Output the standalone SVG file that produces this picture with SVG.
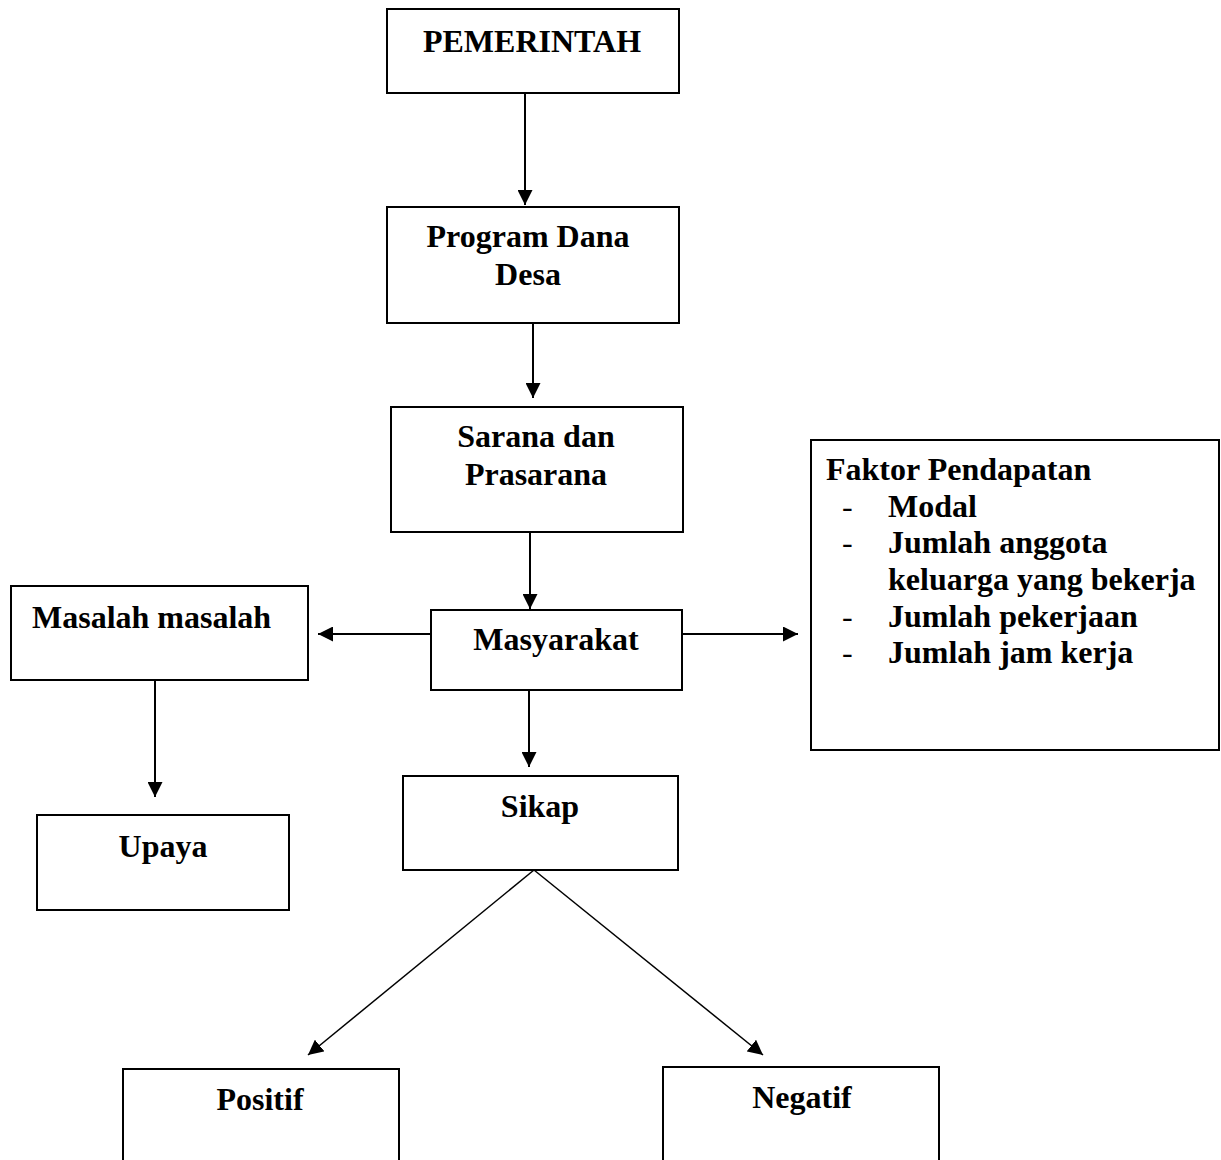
<svg xmlns="http://www.w3.org/2000/svg" width="1221" height="1160" viewBox="0 0 1221 1160">
<style>
.box{fill:#fff;stroke:#000;stroke-width:2}
.t{font-family:"Liberation Serif","Times New Roman",serif;font-weight:bold;font-size:32px;fill:#000}
.d{font-weight:normal}
.c{text-anchor:middle}
.ln{stroke:#000;stroke-width:2;fill:none}
.dg{stroke:#000;stroke-width:1.5;fill:none}
</style>
<defs>
<marker id="ah" viewBox="0 0 15 15" refX="15" refY="7.5" markerWidth="15" markerHeight="15" markerUnits="userSpaceOnUse" orient="auto">
<path d="M0,0 L15,7.5 L0,15 z" fill="#000"/>
</marker>
</defs>
<rect width="1221" height="1160" fill="#fff"/>
<g id="connectors">
<line class="ln" x1="525" y1="93" x2="525" y2="205" marker-end="url(#ah)"/>
<line class="ln" x1="533" y1="323" x2="533" y2="398" marker-end="url(#ah)"/>
<line class="ln" x1="530" y1="532" x2="530" y2="609" marker-end="url(#ah)"/>
<line class="ln" x1="431" y1="634" x2="318" y2="634" marker-end="url(#ah)"/>
<line class="ln" x1="682" y1="634" x2="798" y2="634" marker-end="url(#ah)"/>
<line class="ln" x1="529" y1="690" x2="529" y2="767" marker-end="url(#ah)"/>
<line class="ln" x1="155" y1="680" x2="155" y2="797" marker-end="url(#ah)"/>
<line class="dg" x1="534" y1="870" x2="308" y2="1055" marker-end="url(#ah)"/>
<line class="dg" x1="534" y1="870" x2="763" y2="1055" marker-end="url(#ah)"/>
</g>
<g id="pemerintah">
<rect class="box" x="387" y="9" width="292" height="84"/>
<text class="t c" x="532" y="52">PEMERINTAH</text>
</g>
<g id="program">
<rect class="box" x="387" y="207" width="292" height="116"/>
<text class="t c" x="528" y="247">Program Dana</text>
<text class="t c" x="528" y="285">Desa</text>
</g>
<g id="sarana">
<rect class="box" x="391" y="407" width="292" height="125"/>
<text class="t c" x="536" y="447">Sarana dan</text>
<text class="t c" x="536" y="485">Prasarana</text>
</g>
<g id="masyarakat">
<rect class="box" x="431" y="610" width="251" height="80"/>
<text class="t c" x="556" y="650">Masyarakat</text>
</g>
<g id="masalah">
<rect class="box" x="11" y="586" width="297" height="94"/>
<text class="t" x="32" y="628">Masalah masalah</text>
</g>
<g id="upaya">
<rect class="box" x="37" y="815" width="252" height="95"/>
<text class="t c" x="163" y="857">Upaya</text>
</g>
<g id="faktor">
<rect class="box" x="811" y="440" width="408" height="310"/>
<text class="t" x="826" y="480">Faktor Pendapatan</text>
<text class="t d" x="842" y="517">-</text>
<text class="t" x="888" y="517">Modal</text>
<text class="t d" x="842" y="553">-</text>
<text class="t" x="888" y="553">Jumlah anggota</text>
<text class="t" x="888" y="590">keluarga yang bekerja</text>
<text class="t d" x="842" y="627">-</text>
<text class="t" x="888" y="627">Jumlah pekerjaan</text>
<text class="t d" x="842" y="663">-</text>
<text class="t" x="888" y="663">Jumlah jam kerja</text>
</g>
<g id="sikap">
<rect class="box" x="403" y="776" width="275" height="94"/>
<text class="t c" x="540" y="817">Sikap</text>
</g>
<g id="positif">
<rect class="box" x="123" y="1069" width="276" height="140"/>
<text class="t c" x="260" y="1110">Positif</text>
</g>
<g id="negatif">
<rect class="box" x="663" y="1067" width="276" height="140"/>
<text class="t c" x="802" y="1108">Negatif</text>
</g>
</svg>
